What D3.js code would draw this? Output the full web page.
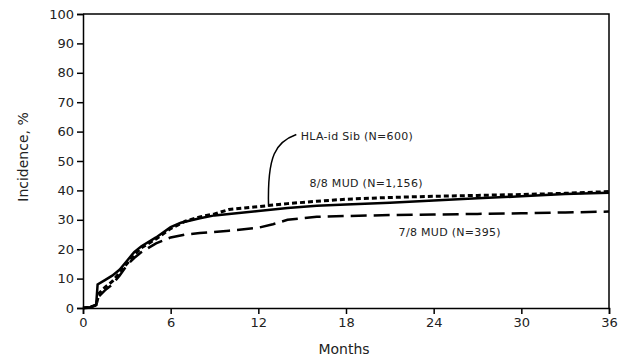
<!DOCTYPE html>
<html>
<head>
<meta charset="utf-8">
<script src="https://cdn.jsdelivr.net/npm/d3@7"></script>
<style>
  body { margin: 0; background: #fff; }
  svg { font-family: "DejaVu Sans", Verdana, sans-serif; }
</style>
</head>
<body>
<div id="chart"></div>
<script>
// months since transplant
const solidMonths = [0, 0.5, 0.9, 1.0, 1.5, 2, 2.5, 3, 3.5, 4, 5, 6, 6.7, 8, 9, 10, 12, 14, 16, 18, 21, 24, 27, 30, 33, 36];
const solidValues = [0, 0.3, 1, 8, 9.5, 11, 13, 16, 19, 21, 24, 27.5, 29, 30.5, 31.5, 32, 33, 34, 34.8, 35.2, 35.8, 36.6, 37.3, 38, 38.8, 39.2];

const shortMonths = [0, 0.5, 0.9, 1.1, 1.5, 2, 2.5, 3, 3.5, 4, 5, 6, 7, 8, 9, 10, 12, 14, 16, 18, 21, 24, 27, 30, 33, 36];
const shortValues = [0, 0.3, 1, 5, 7, 9, 12, 15, 18, 20.5, 23.5, 27, 29.5, 31, 32, 33.5, 34.5, 35.5, 36.3, 37, 37.6, 38, 38.3, 38.6, 39, 39.6];

const longMonths = [0, 0.5, 0.9, 1.1, 1.5, 2, 2.5, 3, 3.5, 4, 5, 6, 7, 8, 10, 12, 13, 14, 15, 16, 18, 21, 24, 27, 30, 33, 36];
const longValues = [0, 0.3, 1, 4, 6, 8, 11, 14.5, 17, 19, 22, 24, 25, 25.5, 26.3, 27.3, 28.5, 30, 30.5, 31, 31.3, 31.6, 31.8, 32, 32.2, 32.5, 32.8];

const xTicks = [0, 6, 12, 18, 24, 30, 36];
const yTicks = [0, 10, 20, 30, 40, 50, 60, 70, 80, 90, 100];

const labelSib = "HLA-id Sib (N=600)";
const label88 = "8/8 MUD (N=1,156)";
const label78 = "7/8 MUD (N=395)";

var margin = {top: 14, right: 18, bottom: 53, left: 83},
    width = 627 - margin.left - margin.right,
    height = 361 - margin.top - margin.bottom;

var svg = d3.select("#chart")
    .append("svg")
        .attr("width", 627)
        .attr("height", 361)
    .append("g")
        .attr("transform", "translate(" + margin.left + "," + margin.top + ")");

const x = d3.scaleLinear().domain([0, 36]).range([0, width]);
const y = d3.scaleLinear().domain([0, 100]).range([height, 0]);

// box (top and right edges)
svg.append("path")
    .attr("d", "M0,0H" + width + "V" + height)
    .attr("fill", "none")
    .attr("stroke", "#000")
    .attr("stroke-width", 1.5);

var xAxis = svg.append("g")
    .attr("transform", "translate(0," + height + ")")
    .call(d3.axisBottom(x).tickValues(xTicks).tickSize(6).tickPadding(4));
var yAxis = svg.append("g")
    .call(d3.axisLeft(y).tickValues(yTicks).tickSize(6).tickPadding(3));

[xAxis, yAxis].forEach(function(a) {
    a.select(".domain").attr("stroke-width", 1.5);
    a.selectAll(".tick line").attr("stroke-width", 1.5);
    a.selectAll("text").attr("font-size", 13).attr("fill", "#222")
        .style("font-family", "DejaVu Sans, Verdana, sans-serif");
});

svg.append("text")
    .attr("x", width / 2 - 2)
    .attr("y", height + 46)
    .attr("text-anchor", "middle")
    .attr("font-size", 14)
    .attr("fill", "#222")
    .text("Months");

svg.append("text")
    .attr("transform", "translate(-55," + (height / 2 - 4) + ")rotate(-90)")
    .attr("text-anchor", "middle")
    .attr("font-size", 14)
    .attr("fill", "#222")
    .text("Incidence, %");

var line = d3.line()
    .x(function(d) { return x(d[0]); })
    .y(function(d) { return y(d[1]); });

function pairs(ms, vs) { return ms.map(function(m, i) { return [m, vs[i]]; }); }

svg.append("path")
    .attr("d", line(pairs(longMonths, longValues)))
    .attr("fill", "none")
    .attr("stroke", "#000")
    .attr("stroke-width", 2.5)
    .attr("stroke-dasharray", "16,7");

svg.append("path")
    .attr("d", line(pairs(solidMonths, solidValues)))
    .attr("fill", "none")
    .attr("stroke", "#000")
    .attr("stroke-width", 2.5);

svg.append("path")
    .attr("d", line(pairs(shortMonths, shortValues)))
    .attr("fill", "none")
    .attr("stroke", "#000")
    .attr("stroke-width", 3)
    .attr("stroke-dasharray", "5,3");

// annotations
function note(txt, mx, vy) {
    svg.append("text")
        .attr("x", x(mx)).attr("y", y(vy))
        .attr("font-size", 11)
        .attr("letter-spacing", 0.3)
        .attr("fill", "#222")
        .text(txt);
}
note(labelSib, 14.9, 57.1);
note(label88, 15.5, 41.2);
note(label78, 21.6, 24.5);

svg.append("path")
    .attr("d", "M" + x(14.6) + "," + y(59) + " C" + x(13.2) + "," + y(56.5) + " " + x(12.6) + "," + y(52) + " " + x(12.7) + "," + y(34.5))
    .attr("fill", "none")
    .attr("stroke", "#000")
    .attr("stroke-width", 1.5);
</script>
</body>
</html>
